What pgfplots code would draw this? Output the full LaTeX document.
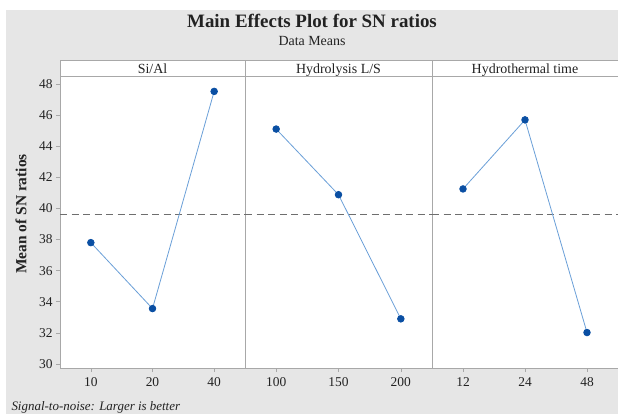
\documentclass[border=0pt]{standalone}
\usepackage{pgfplots}
\pgfplotsset{compat=1.18}
\usepackage{fontspec}
\setmainfont{Liberation Serif}
\definecolor{bggrey}{HTML}{E6E6E6}
\definecolor{axgrey}{HTML}{A8A8A8}
\definecolor{lineblue}{HTML}{6A9FD8}
\definecolor{markblue}{HTML}{0A4FA3}
\definecolor{dashgrey}{HTML}{6E6E6E}
\definecolor{txt}{HTML}{222222}
\pgfplotsset{
  panel/.style={
    anchor=south west, scale only axis, height=292bp,
    xmin=-0.5, xmax=2.5, ymin=29.74, ymax=48.51,
    axis line style={draw=axgrey, line width=0.8pt},
    axis background/.style={fill=white},
    xtick={0,1,2}, tick align=outside, tick pos=left,
    major tick length=4bp,
    tick style={draw=axgrey, line width=0.6pt},
    ytick={30,32,...,48},
    tick label style={font=\fontsize{13.5}{13.5}\selectfont, text=txt},
    /pgf/number format/assume math mode=true,
    xticklabel style={yshift=-2bp},
    clip=false,
  },
  series/.style={color=lineblue, line width=0.8pt, mark=*, mark size=3.3bp,
    mark options={fill=markblue, draw=markblue}},
  meanline/.style={dashgrey, line width=0.9pt, dash pattern=on 7bp off 4.5bp, mark=none},
}
\begin{document}
\begin{tikzpicture}
\useasboundingbox (0,0) rectangle (618bp,-414bp);
\fill[white] (0,0) rectangle (618bp,-414bp);
\fill[bggrey] (6bp,-10bp) rectangle (620bp,-416bp);

\begin{axis}[panel, at={(60bp,-368bp)}, width=185bp,
  xticklabels={10,20,40}]
\addplot[meanline] coordinates {(-0.5,39.63) (2.5,39.63)};
\addplot[series] coordinates {(0,37.80) (1,33.56) (2,47.52)};
\end{axis}

\begin{axis}[panel, at={(245bp,-368bp)}, width=187bp,
  xticklabels={100,150,200}, ytick=\empty]
\addplot[meanline] coordinates {(-0.5,39.63) (2.5,39.63)};
\addplot[series] coordinates {(0,45.10) (1,40.88) (2,32.90)};
\end{axis}

\begin{axis}[panel, at={(432bp,-368bp)}, width=186bp,
  xticklabels={12,24,48}, ytick=\empty]
\addplot[meanline] coordinates {(-0.5,39.63) (2.5,39.63)};
\addplot[series] coordinates {(0,41.25) (1,45.69) (2,32.02)};
\end{axis}

% strips
\draw[axgrey, line width=0.8pt, fill=white] (60bp,-60bp) rectangle (245bp,-76bp);
\draw[axgrey, line width=0.8pt, fill=white] (245bp,-60bp) rectangle (432bp,-76bp);
\draw[axgrey, line width=0.8pt, fill=white] (432bp,-60bp) rectangle (618bp,-76bp);
\node[txt, font=\fontsize{14}{14}\selectfont, anchor=base] at (152.5bp,-73bp) {Si/Al};
\node[txt, font=\fontsize{14}{14}\selectfont, anchor=base] at (338.5bp,-73bp) {Hydrolysis L/S};
\node[txt, font=\fontsize{14}{14}\selectfont, anchor=base] at (525bp,-73bp) {Hydrothermal time};

% titles
\node[txt, font=\fontsize{19}{19}\selectfont\bfseries, anchor=base] at (312bp,-27bp) {Main Effects Plot for SN ratios};
\node[txt, font=\fontsize{14}{14}\selectfont, anchor=base] at (312bp,-45bp) {Data Means};
\node[txt, font=\fontsize{15.5}{15.5}\selectfont\bfseries, rotate=90] at (21bp,-214bp) {Mean of SN ratios};
\node[txt, font=\fontsize{13}{13}\selectfont\itshape, anchor=base west] at (8bp,-410bp) {Signal-to-noise: Larger is better};
\end{tikzpicture}
\end{document}
